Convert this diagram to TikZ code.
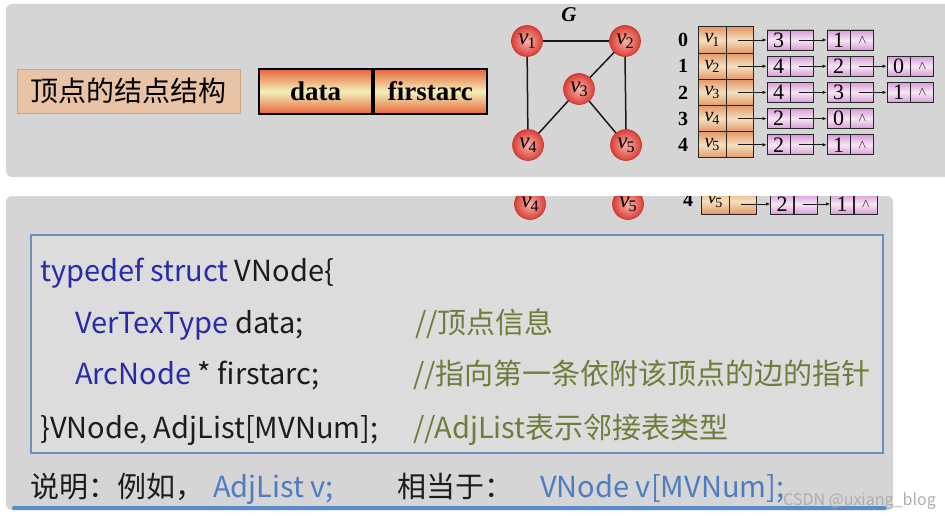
\documentclass[tikz,border=0pt]{standalone}
\usepackage{fontspec}
\setmainfont{Noto Sans CJK SC}
\newfontfamily\tms{Liberation Serif}
\usetikzlibrary{arrows.meta, positioning, shadows}

\definecolor{panelgray}{HTML}{D5D5D5}
\definecolor{codefill}{HTML}{DCDCDC}
\definecolor{codeedge}{HTML}{6F8FB5}
\definecolor{lblfill}{HTML}{E9C3A5}
\definecolor{lbledge}{HTML}{D4A684}
\definecolor{datac}{HTML}{E8643A}
\definecolor{datam}{HTML}{F2F0B8}
\definecolor{headc}{HTML}{E39868}
\definecolor{headm}{HTML}{F4DFBC}
\definecolor{arcc}{HTML}{D89CD8}
\definecolor{arcm}{HTML}{F6E6F4}
\definecolor{vertin}{HTML}{F6B4AA}
\definecolor{vertout}{HTML}{DA3E36}
\definecolor{kwblue}{HTML}{2A2AA8}
\definecolor{cmgreen}{HTML}{6C7D3C}
\definecolor{noteblue}{HTML}{4D7CC0}
\definecolor{txtblack}{HTML}{1C1C1C}
\definecolor{barblue}{HTML}{5A8AC8}

\newcommand{\vx}[1]{{\tms\itshape v\kern-1pt\raisebox{-0.35ex}{\upshape\fontsize{0.7\dimexpr\fontdimen6\font\relax}{0}\selectfont #1}}}
\newcommand{\nul}{{\tms\fontsize{12}{12}\selectfont$\wedge$}}

\begin{document}
\begin{tikzpicture}[x=1pt, y=-1pt,
    vert/.style={circle, draw=vertout!90!black, line width=0.6pt, shading=radial, inner color=vertin, outer color=vertout, minimum size=31pt, inner sep=0pt, font=\fontsize{23}{23}\selectfont},
    edge/.style={line width=1.5pt, black!90},
    idxlbl/.style={inner sep=0pt, font=\tms\bfseries\fontsize{20}{20}\selectfont},
    headv/.style={rectangle, draw=black!85, line width=0.8pt, top color=headc, bottom color=headc, middle color=headm, minimum width=28pt, minimum height=26.2pt, inner sep=0pt, font=\fontsize{20}{20}\selectfont},
    headp/.style={headv, minimum width=27pt},
    arcn/.style={rectangle, draw=black!85, line width=0.8pt, top color=arcc, bottom color=arcc, middle color=arcm, minimum width=23pt, minimum height=20pt, inner sep=0pt, font=\tms\fontsize{22}{22}\selectfont},
    arcp/.style={arcn},
    ptr/.style={-{Latex[length=4pt, width=3.5pt]}, line width=0.7pt, black!90},
    codetxt/.style={anchor=base west, inner sep=0pt, text=txtblack, font=\fontsize{29}{31}\selectfont}
]
\useasboundingbox (0,0) rectangle (945,516);

% upper slide
\fill[panelgray, rounded corners=6pt] (6,4) rectangle (960,177);

\node[rectangle, fill=lblfill, draw=lbledge, drop shadow={shadow xshift=1pt, shadow yshift=-1.5pt, opacity=0.3}, minimum width=223pt, minimum height=44pt, inner sep=0pt, font=\fontsize{28}{28}\selectfont] (structlbl) at (128.5,91) {顶点的结点结构};

\node[rectangle, draw=black, line width=1.8pt, top color=datac, bottom color=datac, middle color=datam, minimum width=113pt, minimum height=45pt, inner sep=0pt, font=\tms\bfseries\fontsize{27}{27}\selectfont] (datacell) at (315.5,91.5) {data};
\node[rectangle, draw=black, line width=1.8pt, top color=datac, bottom color=datac, middle color=datam, minimum width=113pt, minimum height=45pt, inner sep=0pt, font=\tms\bfseries\fontsize{27}{27}\selectfont, right=0pt of datacell] (arccell) {firstarc};

% graph G
\node[font=\tms\bfseries\itshape\fontsize{21}{21}\selectfont] (glbl) at (569,15) {G};
\node[vert] (v1) at (527,41) {\vx{1}};
\node[vert] (v2) at (625,41) {\vx{2}};
\node[vert] (v3) at (579,89) {\vx{3}};
\node[vert] (v4) at (528,145) {\vx{4}};
\node[vert] (v5) at (626,145) {\vx{5}};
\draw[edge] (v1) -- (v2);
\draw[edge] (v1) -- (v4);
\draw[edge] (v2) -- (v3);
\draw[edge] (v2.south) -- (v5.north);
\draw[edge] (v3) -- (v4);
\draw[edge] (v3) -- (v5);

% adjacency list
\foreach \r/\s in {0/1,1/2,2/3,3/4,4/5} {
  \node[idxlbl] (idx\r) at (683,40+26.2*\r) {\r};
  \node[headv] (hv\r) at (712,40+26.2*\r) {\vx{\s}};
  \node[headp, right=0pt of hv\r] (hp\r) {};
}
\foreach \r/\c/\v/\t in {0/1/3/{}, 0/2/1/\nul, 1/1/4/{}, 1/2/2/{}, 1/3/0/\nul, 2/1/4/{}, 2/2/3/{}, 2/3/1/\nul, 3/1/2/{}, 3/2/0/\nul, 4/1/2/{}, 4/2/1/\nul} {
  \node[arcn] (a\r\c) at (718.5+60*\c,40+26.2*\r) {\v};
  \node[arcp, right=0pt of a\r\c] (a\r\c p) {\t};
}
\foreach \r in {0,...,4}
  \draw[ptr] ([xshift=-2pt]hp\r.center) -- (a\r1.west);
\foreach \r/\c/\n in {0/1/2, 1/1/2, 1/2/3, 2/1/2, 2/2/3, 3/1/2, 4/1/2}
  \draw[ptr] ([xshift=-3pt]a\r\c p.center) -- (a\r\n.west);

% lower slide
\fill[panelgray, rounded corners=6pt] (6,196) rectangle (893,510);
\fill[barblue, rounded corners=2pt] (12,506) rectangle (887,510);

\begin{scope}
\clip (6,196) rectangle (893,510);
\node[vert] (v4b) at (530,204) {\vx{4}};
\node[vert] (v5b) at (628,204) {\vx{5}};
\node[idxlbl] (idx4b) at (688,200) {4};
\node[headv] (hv4b) at (715,201) {\vx{5}};
\node[headp, right=0pt of hv4b] (hp4b) {};
\node[arcn] (b41) at (782,204) {2};
\node[arcp, right=0pt of b41] (b41p) {};
\node[arcn] (b42) at (842,204) {1};
\node[arcp, right=0pt of b42] (b42p) {\nul};
\draw[ptr] ([xshift=-2pt]hp4b.center |- b41.west) -- (b41.west);
\draw[ptr] ([xshift=-3pt]b41p.center) -- (b42.west);
\end{scope}

\node[rectangle, draw=codeedge, line width=1.5pt, fill=codefill, minimum width=852pt, minimum height=218pt, inner sep=0pt] (codebox) at (457,344) {};

\node[codetxt] (ln1) at (40,281) {\textcolor{kwblue}{typedef struct} VNode\{};
\node[codetxt] (ln2) at (75,333) {\textcolor{kwblue}{VerTexType} data;};
\node[codetxt, text=cmgreen] (cm2) at (415,333) {//顶点信息};
\node[codetxt] (ln3) at (75,384) {\textcolor{kwblue}{ArcNode} * firstarc;};
\node[codetxt, text=cmgreen] (cm3) at (413,384) {//指向第一条依附该顶点的边的指针};
\node[codetxt] (ln4) at (40,438) {\}VNode, AdjList[MVNum];};
\node[codetxt, text=cmgreen] (cm4) at (413,438) {//AdjList表示邻接表类型};

\node[codetxt] (note1) at (30,497) {说明：例如，};
\node[codetxt, text=noteblue] (note2) at (213,497) {AdjList v;};
\node[codetxt] (note3) at (397,497) {相当于：};
\node[codetxt, text=noteblue] (note4) at (540,497) {VNode v[MVNum];};

\node[anchor=base west, inner sep=0pt, text=black!32, font=\fontsize{16}{16}\selectfont] (mark) at (783,505) {CSDN @uxiang\_blog};
\end{tikzpicture}
\end{document}
